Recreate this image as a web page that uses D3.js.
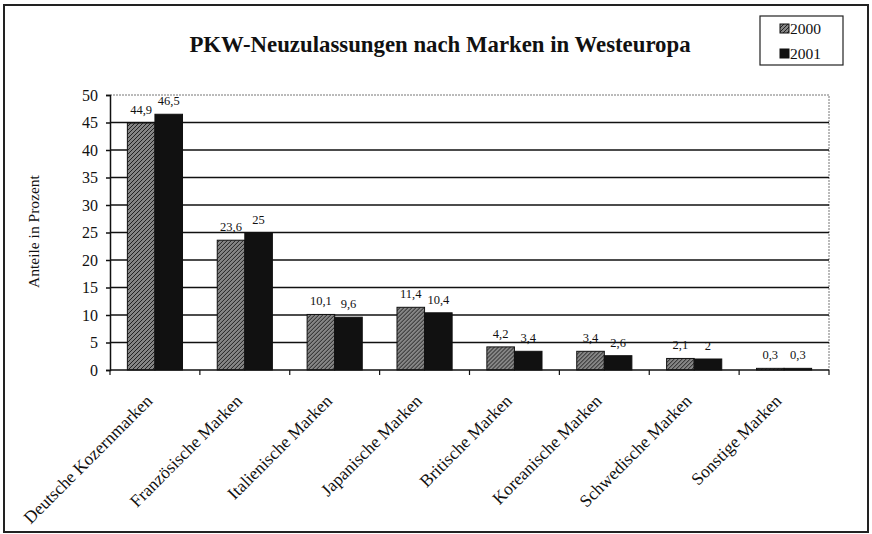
<!DOCTYPE html>
<html>
<head>
<meta charset="utf-8">
<script src="https://cdn.jsdelivr.net/npm/d3@7"></script>
<style>
  body { margin: 0; background: #fff; }
  svg { display: block; }
</style>
</head>
<body>
<svg width="872" height="534"></svg>
<script>
// Daten
const categories = ["Deutsche Kozernmarken", "Französische Marken", "Italienische Marken",
  "Japanische Marken", "Britische Marken", "Koreanische Marken", "Schwedische Marken", "Sonstige Marken"];
const series = ["2000", "2001"];
const values2000 = [44.9, 23.6, 10.1, 11.4, 4.2, 3.4, 2.1, 0.3];
const values2001 = [46.5, 25, 9.6, 10.4, 3.4, 2.6, 2, 0.3];
const labels2000 = ["44,9", "23,6", "10,1", "11,4", "4,2", "3,4", "2,1", "0,3"];
const labels2001 = ["46,5", "25", "9,6", "10,4", "3,4", "2,6", "2", "0,3"];
const yTicks = [0, 5, 10, 15, 20, 25, 30, 35, 40, 45, 50];

const FONT = "'Liberation Serif', 'Times New Roman', serif";
const svg = d3.select("svg");

// Rahmen
svg.append("rect")
  .attr("x", 4).attr("y", 5).attr("width", 864).attr("height", 527)
  .attr("fill", "#fff").attr("stroke", "#222").attr("stroke-width", 2);

// Muster für 2000
const defs = svg.append("defs");
const pat = defs.append("pattern")
  .attr("id", "hatch").attr("patternUnits", "userSpaceOnUse")
  .attr("width", 4).attr("height", 4);
pat.append("rect").attr("width", 4).attr("height", 4).attr("fill", "#858585");
pat.append("path")
  .attr("d", "M-1,1 l2,-2 M0,4 l4,-4 M3,5 l2,-2")
  .attr("stroke", "#222").attr("stroke-width", 1);

const pLeft = 110, pRight = 829, pTop = 95, pBottom = 370;

const x0 = d3.scaleBand().domain(categories).range([pLeft, pRight]);
const x1 = d3.scaleBand().domain(series).range([0, x0.bandwidth()]).paddingOuter(0.63);
const y = d3.scaleLinear().domain([0, 50]).range([pBottom, pTop]);

// Rand oben/rechts
svg.append("path")
  .attr("d", `M${pLeft},${pTop}H${pRight}V${pBottom}`)
  .attr("fill", "none").attr("stroke", "#777").attr("stroke-width", 1)
  .attr("stroke-dasharray", "2,1");

// Gitterlinien
svg.append("g")
  .selectAll("line")
  .data(yTicks.filter(d => d > 0 && d < 50))
  .join("line")
  .attr("x1", pLeft).attr("x2", pRight)
  .attr("y1", d => y(d)).attr("y2", d => y(d))
  .attr("stroke", "#111").attr("stroke-width", 1.6);

// Balken
const groups = svg.append("g")
  .selectAll("g")
  .data(categories.map((c, i) => ({ c, v: [values2000[i], values2001[i]], l: [labels2000[i], labels2001[i]] })))
  .join("g")
  .attr("transform", d => `translate(${x0(d.c)},0)`);

groups.selectAll("rect")
  .data(d => series.map((s, j) => ({ s, v: d.v[j] })))
  .join("rect")
  .attr("x", d => x1(d.s))
  .attr("y", d => y(d.v))
  .attr("width", x1.bandwidth())
  .attr("height", d => pBottom - y(d.v))
  .attr("fill", d => d.s === "2000" ? "url(#hatch)" : "#111")
  .attr("stroke", "#111").attr("stroke-width", 1);

groups.selectAll("text")
  .data(d => series.map((s, j) => ({ s, v: d.v[j], l: d.l[j] })))
  .join("text")
  .attr("x", d => x1(d.s) + x1.bandwidth() / 2)
  .attr("y", d => y(d.v) - 9)
  .attr("text-anchor", "middle")
  .attr("font-size", 12.5)
  .text(d => d.l);

// y-Achse
const yAxis = svg.append("g")
  .attr("transform", `translate(${pLeft},0)`)
  .call(d3.axisLeft(y).tickValues(yTicks).tickSize(4).tickPadding(8));
yAxis.select(".domain").attr("stroke", "#111").attr("stroke-width", 1.5);
yAxis.selectAll(".tick line").attr("stroke", "#111").attr("stroke-width", 1.5);
yAxis.selectAll(".tick text").attr("font-size", 16);

// x-Achse
svg.append("line")
  .attr("x1", pLeft).attr("x2", pRight).attr("y1", pBottom).attr("y2", pBottom)
  .attr("stroke", "#111").attr("stroke-width", 1.6);
svg.append("g")
  .selectAll("line")
  .data(categories.concat(["end"]))
  .join("line")
  .attr("x1", d => d === "end" ? pRight : x0(d))
  .attr("x2", d => d === "end" ? pRight : x0(d))
  .attr("y1", pBottom).attr("y2", pBottom + 5)
  .attr("stroke", "#111").attr("stroke-width", 1.2);

svg.append("g")
  .selectAll("text")
  .data(categories)
  .join("text")
  .attr("transform", d => `translate(${x0(d) + x0.bandwidth() / 2 - 1.5},${pBottom + 32}) rotate(-45)`)
  .attr("text-anchor", "end")
  .attr("font-size", 17.5)
  .text(d => d);

// Achsentitel
svg.append("text")
  .attr("transform", `translate(39,${(pTop + pBottom) / 2 - 1}) rotate(-90)`)
  .attr("text-anchor", "middle")
  .attr("font-size", 15.5)
  .text("Anteile in Prozent");

// Titel
svg.append("text")
  .attr("x", 440).attr("y", 52)
  .attr("text-anchor", "middle")
  .attr("font-size", 22.8).attr("font-weight", "bold")
  .text("PKW-Neuzulassungen nach Marken in Westeuropa");

// Legende
const legend = svg.append("g").attr("transform", "translate(760,16)");
legend.append("rect").attr("width", 83).attr("height", 49)
  .attr("fill", "#fff").attr("stroke", "#222").attr("stroke-width", 1.2);
const items = legend.selectAll("g.item")
  .data(series)
  .join("g")
  .attr("transform", (d, i) => `translate(20,${8 + i * 25})`);
items.append("rect").attr("width", 9).attr("height", 9)
  .attr("fill", d => d === "2000" ? "url(#hatch)" : "#111")
  .attr("stroke", "#111").attr("stroke-width", 1);
items.append("text").attr("x", 10).attr("y", 10)
  .attr("font-size", 15.5).text(d => d);

// Schrift für alle Texte
svg.selectAll("text")
  .attr("font-family", FONT)
  .style("font-family", FONT)
  .attr("fill", "#111");
</script>
</body>
</html>
